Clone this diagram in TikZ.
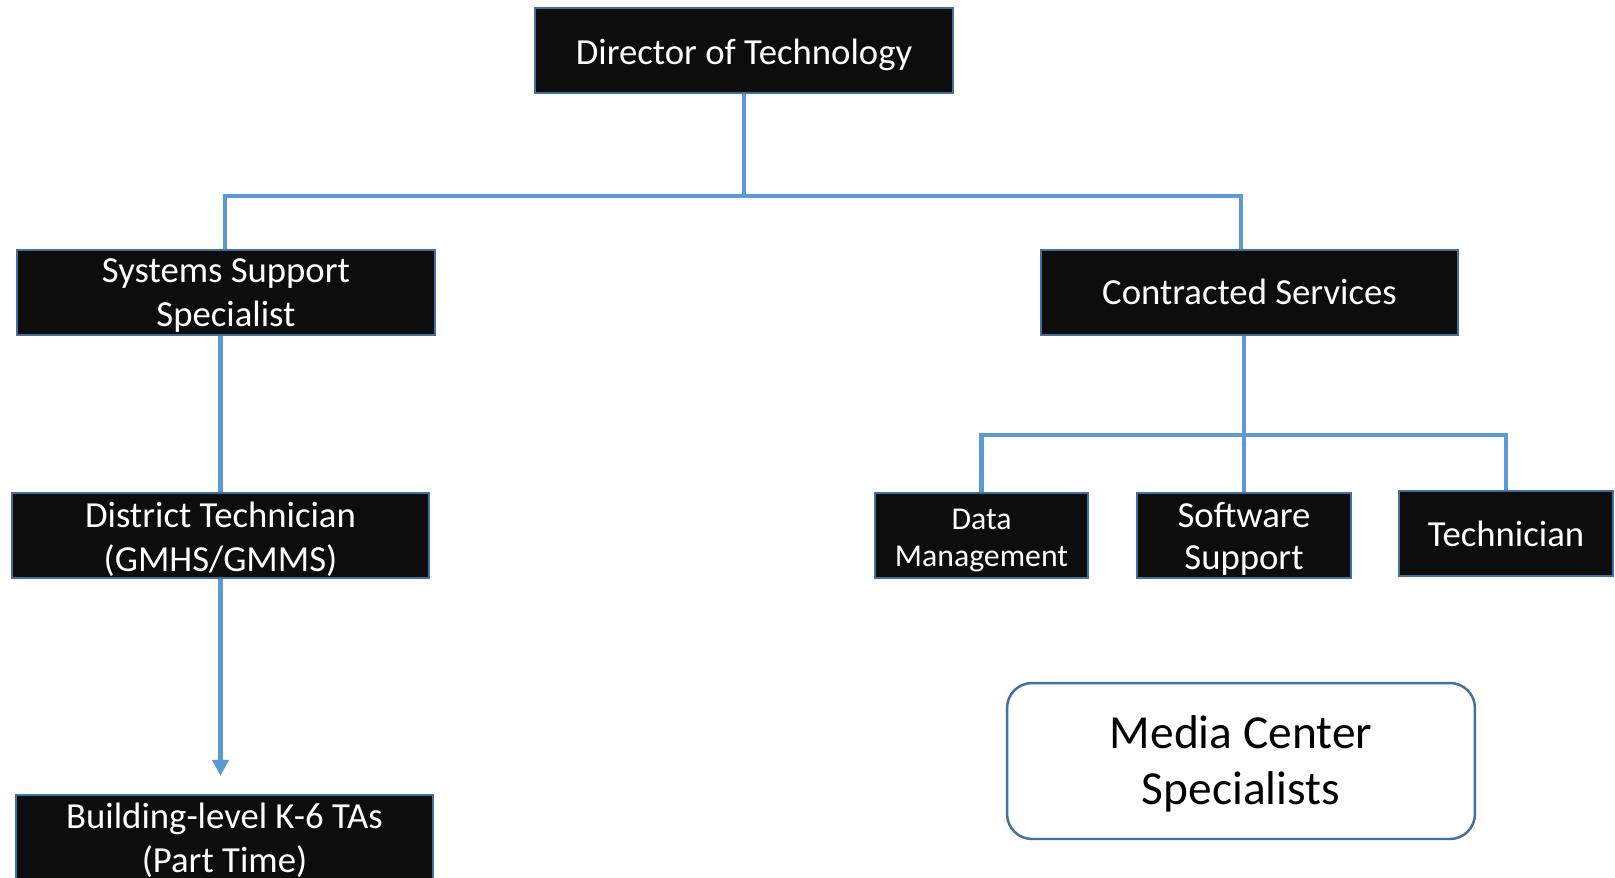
\documentclass[tikz,border=0pt]{standalone}
\usepackage{fontspec}
\setmainfont{Carlito}
\usetikzlibrary{arrows.meta,calc}
\definecolor{boxfill}{HTML}{0D0D0D}
\definecolor{boxline}{HTML}{41719C}
\definecolor{conn}{HTML}{5B9BD5}
\begin{document}
\begin{tikzpicture}[x=0.02cm,y=-0.02cm,
  orgbox/.style={draw=boxline,line width=1.3pt,fill=boxfill,text=white,
    inner sep=0pt,align=center,text depth=0pt,
    font=\fontsize{20.9pt}{25.6pt}\selectfont},
  widebox/.style={orgbox,minimum width=8.36cm,minimum height=1.70cm},
  smallbox/.style={orgbox,minimum width=4.27cm,minimum height=1.70cm},
  link/.style={draw=conn,line width=2.5pt},
  arrowlink/.style={link,-{Triangle[length=0.32cm,width=0.32cm]}}]
\clip (0,0) rectangle (1615,878);
\fill[white] (0,0) rectangle (1615,878);

\node[widebox,text height=0.58cm] (dir) at (744,50.5) {Director of Technology};
\node[widebox,text height=1.38cm] (sys) at (226,292.5) {Systems Support\\Specialist};
\node[widebox,minimum width=8.34cm,text height=0.50cm] (cs) at (1249.5,292.5) {Contracted Services};
\node[widebox,minimum width=8.34cm,text height=1.46cm] (dt) at (220.5,535.5) {District Technician\\(GMHS/GMMS)};
\node[smallbox,minimum width=4.26cm,text height=1.26cm,font=\fontsize{18.1pt}{21.6pt}\selectfont] (dm) at (981.5,535.5) {Data\\Management};
\node[smallbox,text height=1.38cm,font=\fontsize{20.9pt}{24pt}\selectfont] (sw) at (1244,535.5) {Software\\Support};
\node[smallbox,text height=0.54cm] (te) at (1506,533.5) {Technician};
\node[widebox,minimum width=8.34cm,minimum height=2.0cm,text height=1.08cm,font=\fontsize{20.9pt}{24.5pt}\selectfont] (bt) at (224.5,845) {Building-level K-6 TAs\\(Part Time)};
\node[draw=boxline,line width=1.4pt,fill=white,rounded corners=0.5cm,
  minimum width=9.36cm,minimum height=3.12cm,inner sep=0pt,align=center,
  text depth=0pt,text height=1.76cm,font=\fontsize{27pt}{32.4pt}\selectfont] (mc) at (1241,761) {Media Center\\Specialists};

% top level connectors
\coordinate (bus1) at ($(dir.south)+(0,102)$);
\draw[link] (dir.south) -- (bus1);
\draw[link] ($(sys.north)+(-1,0)$) |- (bus1) -| ($(cs.north)+(-8.5,0)$);
% left chain
\draw[link] (sys.south -| dt.north) -- (dt.north);
\draw[arrowlink] (dt.south) -- ($(dt.south |- bt.north)+(0,-18)$);
% right chain
\draw[link] (cs.south -| sw.north) -- (sw.north);
\draw[link] (dm.north) |- ($(sw.north)+(0,-57)$) -| (te.north);
\end{tikzpicture}
\end{document}
